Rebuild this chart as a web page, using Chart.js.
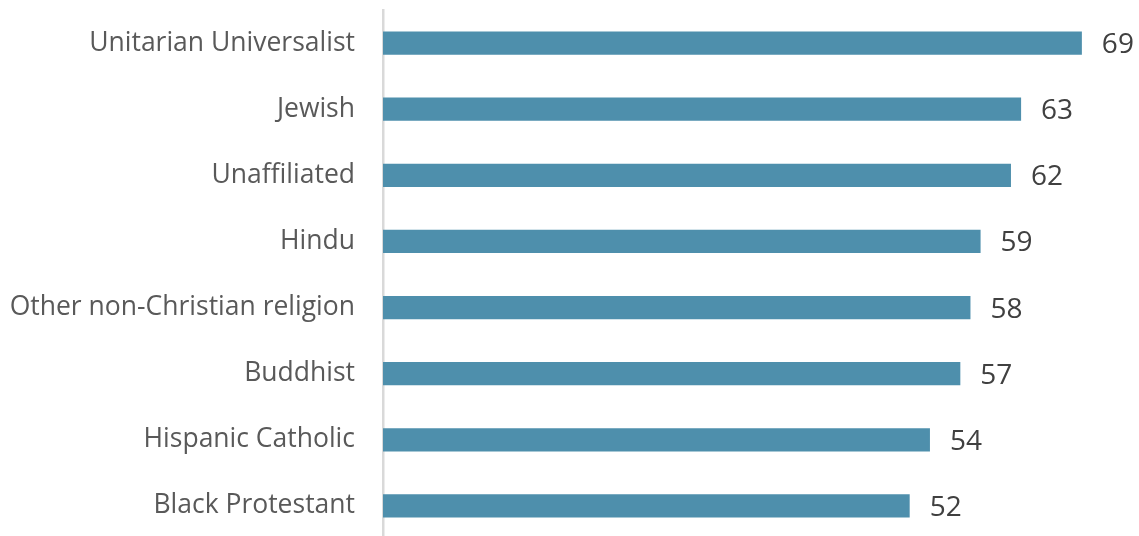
<!DOCTYPE html>
<html><head><meta charset="utf-8">
<script src="https://cdn.jsdelivr.net/npm/chart.js@4"></script>
<style>html,body{margin:0;padding:0;background:#fff;overflow:hidden;}canvas{display:block;}</style>
</head><body>
<canvas id="c" width="1139" height="540" style="width:1139px;height:540px"></canvas>
<script>
const categories = ["Unitarian Universalist","Jewish","Unaffiliated","Hindu","Other non-Christian religion","Buddhist","Hispanic Catholic","Black Protestant"];
const values = [69,63,62,59,58,57,54,52];

const labelPlugin = {
  id:'barLabels',
  afterDatasetsDraw(chart){
    const ctx = chart.ctx;
    const meta = chart.getDatasetMeta(0);
    ctx.save();
    ctx.font = '28px "Open Sans", sans-serif';
    ctx.fillStyle = '#404040';
    ctx.textAlign = 'left';
    ctx.textBaseline = 'middle';
    meta.data.forEach((bar,i)=>{
      ctx.fillText(String(values[i]), bar.x + 20, bar.y + 2);
    });
    ctx.restore();
  }
};

new Chart(document.getElementById('c'), {
  type:'bar',
  data:{labels:categories, datasets:[{data:values, backgroundColor:'#4E8FAC', borderWidth:0, categoryPercentage:1, barPercentage:0.35}]},
  options:{
    indexAxis:'y', responsive:false, animation:false,
    layout:{padding:{top:10,bottom:1,right:47,left:0}},
    plugins:{legend:{display:false},tooltip:{enabled:false}},
    scales:{
      x:{display:false,min:0,max:70},
      y:{
        grid:{display:false, drawTicks:false},
        border:{display:true,color:'#D9D9D9',width:2.5},
        ticks:{color:'#595959',font:{family:'"Open Sans", sans-serif',size:26.5},padding:28},
        afterFit(s){s.width=383; s.paddingTop=0; s.paddingBottom=0;}
      }
    }
  },
  plugins:[labelPlugin]
});
</script>
</body></html>
